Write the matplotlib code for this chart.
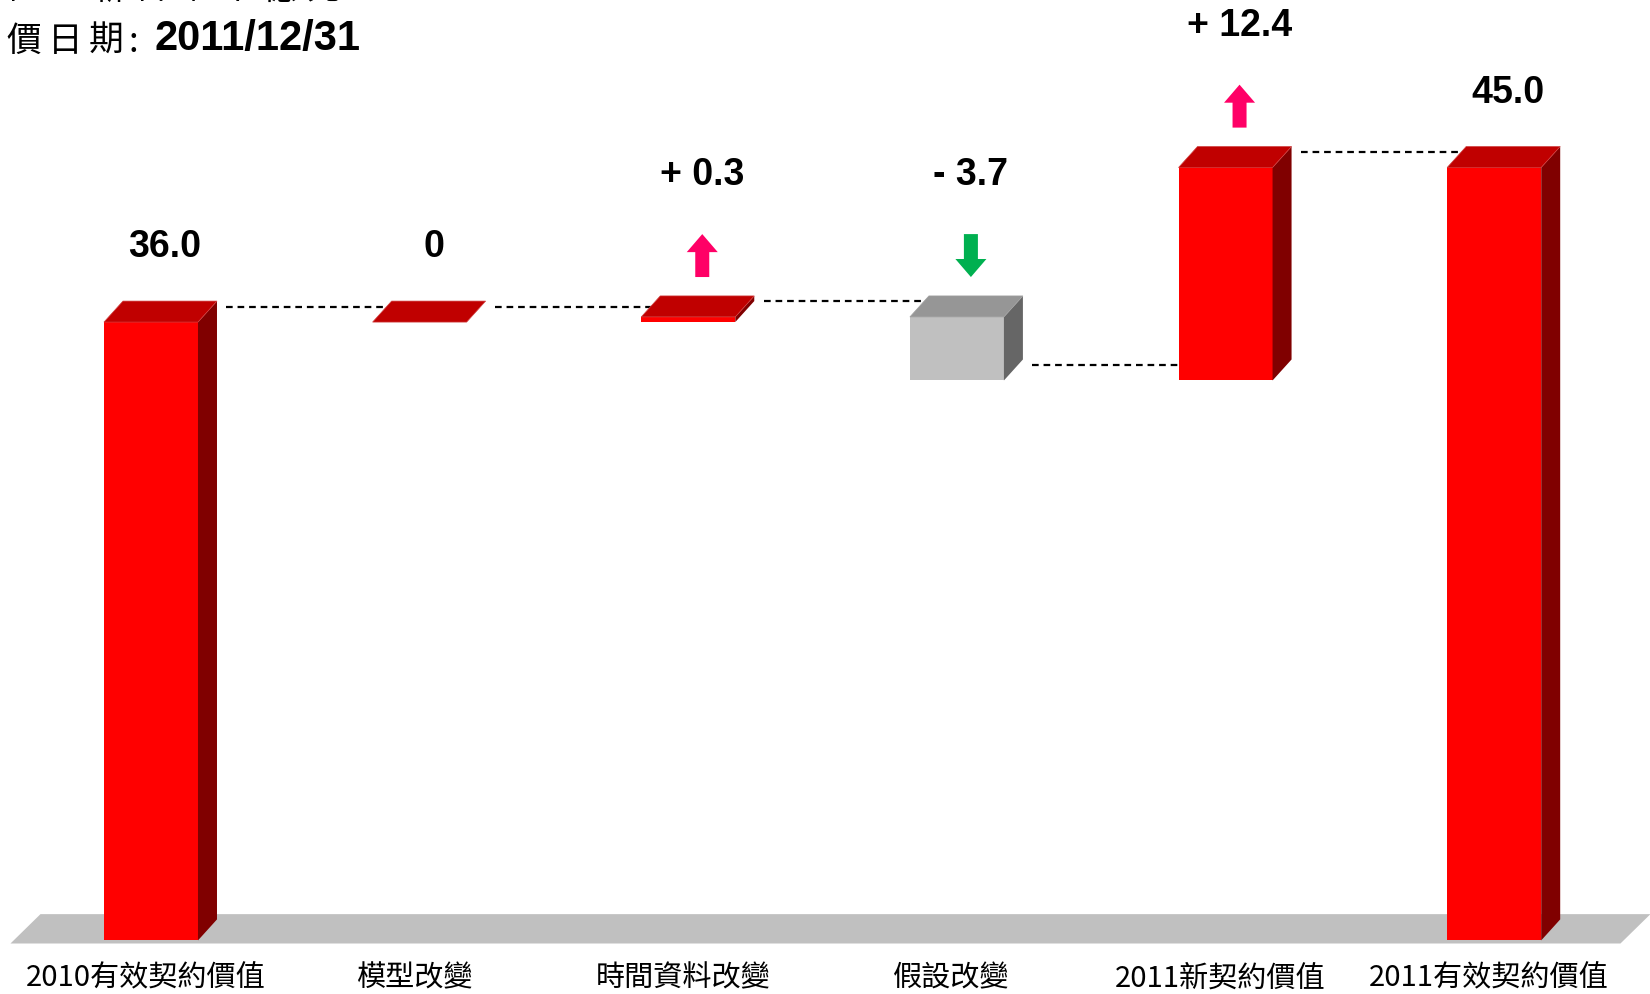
import numpy as np
import matplotlib
matplotlib.use("Agg")
import matplotlib.pyplot as plt
from matplotlib.patches import Polygon, FancyArrow

# ---- data ----
categories = ["2010有效契約價值", "模型改變", "時間資料改變", "假設改變",
              "2011新契約價值", "2011有效契約價值"]
values = [36.0, 0.0, 0.3, -3.7, 12.4, 45.0]
kinds = ["total", "delta", "delta", "delta", "delta", "total"]
value_labels = ["36.0", "0", "+ 0.3", "- 3.7", "+ 12.4", "45.0"]
unit_chars = ["單", "位", "：", "新", "台", "幣", "十", "億", "元"]
date_chars = ["評", "價", "日", "期"]
date_text = "2011/12/31"

CJK = ["Noto Sans CJK TC", "DejaVu Sans"]
NUM = ["Liberation Sans", "DejaVu Sans"]

# colours
RED = dict(front="#FF0000", top="#C00000", side="#800000", edge="#D04040")
GRAY = dict(front="#C0C0C0", top="#969696", side="#666666", edge="#A0A0A0")
UP_C, DOWN_C = "#FF0066", "#00B050"

W_FIG, H_FIG = 1650, 995
fig = plt.figure(figsize=(W_FIG / 100, H_FIG / 100), dpi=100)
ax = fig.add_axes([0, 0, 1, 1])
ax.set_xlim(-0.562, 5.580)
ax.set_ylim(-3.12, 54.81)
ax.axis("off")

# data units per pixel
PX = (ax.get_xlim()[1] - ax.get_xlim()[0]) / W_FIG
PY = (ax.get_ylim()[1] - ax.get_ylim()[0]) / H_FIG
BW = 0.35                 # bar width
DX, DY = 19 * PX, 21 * PY  # 3d depth offset

# running totals -> bottoms / tops
bottoms, tops, levels = [], [], []
run = 0.0
for v, k in zip(values, kinds):
    if k == "total":
        b, t = 0.0, v
        run = v
    else:
        b, t = (run, run + v) if v >= 0 else (run + v, run)
        run += v
    bottoms.append(b); tops.append(t); levels.append(run)

# floor
n = len(categories)
fb, ft = -0.18, 1.53
fl, fr, fo = -0.523, n - 1 + 0.47, 30 * PX
ax.add_patch(Polygon([(fl, fb), (fr, fb), (fr + fo, ft), (fl + fo, ft)],
                     closed=True, fc="#C0C0C0", ec="none", zorder=1))

# connector lines
for i in range(n - 1):
    y = levels[i] + 0.9
    x0 = i + BW / 2 + DX + 0.035
    x1 = i + 1 - BW / 2 + 0.04
    ax.plot([x0, x1], [y, y], color="black", lw=1.6,
            linestyle=(0, (3, 2.2)), zorder=2)


def box(xc, b, t, c):
    x0, x1 = xc - BW / 2, xc + BW / 2
    if t > b:
        ax.add_patch(Polygon([(x0, b), (x1, b), (x1, t), (x0, t)],
                             fc=c["front"], ec="none", zorder=3))
        ax.add_patch(Polygon([(x1, b), (x1 + DX, b + DY), (x1 + DX, t + DY), (x1, t)],
                             fc=c["side"], ec="none", zorder=3))
    ax.add_patch(Polygon([(x0, t), (x1, t), (x1 + DX, t + DY), (x0 + DX, t + DY)],
                         fc=c["top"], ec=c["edge"], lw=0.5, zorder=3))


GAP, AL = 1.1, 2.5
for i in range(n):
    neg = kinds[i] == "delta" and values[i] < 0
    box(i, bottoms[i], tops[i], GRAY if neg else RED)
    top_back = tops[i] + DY
    ax_x = i + 14 * PX
    if kinds[i] == "delta" and values[i] != 0:
        if values[i] > 0:
            arr = FancyArrow(ax_x, top_back + GAP, 0, AL, width=14 * PX,
                             head_width=31 * PX, head_length=1.05,
                             length_includes_head=True, fc=UP_C, ec="none", zorder=4)
        else:
            arr = FancyArrow(ax_x, top_back + GAP + AL, 0, -AL, width=14 * PX,
                             head_width=31 * PX, head_length=1.05,
                             length_includes_head=True, fc=DOWN_C, ec="none", zorder=4)
        ax.add_patch(arr)
        ly = top_back + GAP + AL + 3.5
    else:
        ly = top_back + 3.2
    ax.text(ax_x, ly, value_labels[i], ha="center", va="center",
            fontsize=27, fontweight="bold", family=NUM, zorder=5)
    ax.text(i - 0.02, -2.14, categories[i], ha="center", va="center",
            fontsize=21, family=CJK, zorder=5)

# header text, one glyph per slot (first characters fall off the left edge)
PITCH = 43
for k, ch in enumerate(unit_chars):
    fig.text((22 + (k - 1) * PITCH) / W_FIG, 1 + 11 / H_FIG, ch, ha="center",
             va="center", fontsize=24, family=CJK)
for k, ch in enumerate(date_chars):
    fig.text((24 + (k - 1) * 41) / W_FIG, 1 - 41 / H_FIG, ch, ha="center",
             va="center", fontsize=25, family=CJK)
fig.text(133 / W_FIG, 1 - 42 / H_FIG, ":", ha="center", va="center",
         fontsize=25, family=CJK)
fig.text(154 / W_FIG, 1 - 39 / H_FIG, date_text, ha="left", va="center",
         fontsize=30, fontweight="bold", family=NUM)

fig.savefig("out.png", dpi=100)
